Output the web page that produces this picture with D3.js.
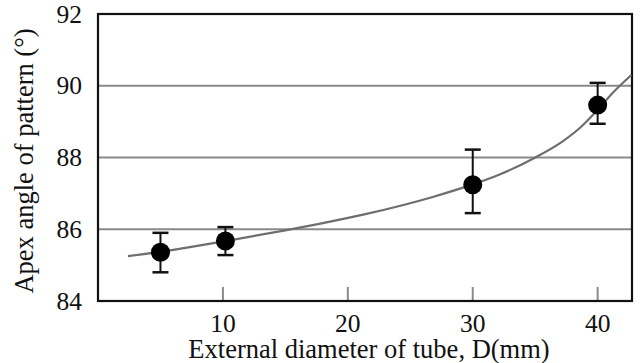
<!DOCTYPE html>
<html>
<head>
<meta charset="utf-8">
<script src="https://cdn.jsdelivr.net/npm/d3@7"></script>
<style>
  body { margin: 0; background: #fff; }
</style>
</head>
<body>
<div id="chart"></div>
<script>
// measured points (mean + error bar ends)
const diameters = [5, 10.2, 30, 40];
const angles = [85.36, 85.67, 87.24, 89.46];
const errLow = [84.8, 85.28, 86.45, 88.94];
const errHigh = [85.9, 86.06, 88.22, 90.08];

// fitted trend line
const fitD = [2.4, 5, 7, 10.2, 15, 17.7, 21.4, 26.8, 30, 32.1, 34.9, 37.2, 38.5, 40, 41.2, 42.7];
const fitAngle = [85.25, 85.37, 85.48, 85.67, 85.97, 86.15, 86.42, 86.9, 87.25, 87.52, 87.98, 88.45, 88.8, 89.33, 89.8, 90.3];

const xTicks = [10, 20, 30, 40];
const yTicks = [84, 86, 88, 90, 92];
const gridLines = [86, 88, 90];

const width = 640, height = 363;
const margin = { top: 14, right: 8, bottom: 62, left: 98 };
const FONT = "Liberation Serif";

const svg = d3.select("#chart")
  .append("svg")
  .attr("width", width)
  .attr("height", height);

const x = d3.scaleLinear()
  .domain([0, 42.75])
  .range([margin.left, width - margin.right]);

const y = d3.scaleLinear()
  .domain([84, 92])
  .range([height - margin.bottom, margin.top]);

// --- grid ---
svg.append("g")
  .attr("class", "grid")
  .selectAll("line")
  .data(gridLines)
  .enter().append("line")
  .attr("x1", x(0))
  .attr("x2", x(42.75))
  .attr("y1", d => y(d))
  .attr("y2", d => y(d))
  .attr("stroke", "#8a8a8a")
  .attr("stroke-width", 2);

// --- x ticks (inward, grey) ---
svg.append("g")
  .selectAll("line")
  .data(xTicks)
  .enter().append("line")
  .attr("x1", d => x(d))
  .attr("x2", d => x(d))
  .attr("y1", y(84))
  .attr("y2", y(84) - 14)
  .attr("stroke", "#8a8a8a")
  .attr("stroke-width", 2);

// --- frame ---
svg.append("rect")
  .attr("x", x(0))
  .attr("y", y(92))
  .attr("width", x(42.75) - x(0))
  .attr("height", y(84) - y(92))
  .attr("fill", "none")
  .attr("stroke", "#111")
  .attr("stroke-width", 2.2);

// --- tick labels ---
svg.append("g")
  .selectAll("text")
  .data(xTicks)
  .enter().append("text")
  .attr("x", d => x(d))
  .attr("y", 331.5)
  .attr("text-anchor", "middle")
  .attr("fill", "#111")
  .attr("font-family", FONT)
  .attr("font-size", 25.5)
  .text(d => d);

svg.append("g")
  .selectAll("text")
  .data(yTicks)
  .enter().append("text")
  .attr("x", 82)
  .attr("y", d => y(d))
  .attr("dy", "0.34em")
  .attr("text-anchor", "end")
  .attr("fill", "#111")
  .attr("font-family", FONT)
  .attr("font-size", 25.5)
  .text(d => d);

// --- axis titles ---
svg.append("text")
  .attr("x", 369)
  .attr("y", 357.5)
  .attr("text-anchor", "middle")
  .attr("fill", "#111")
  .attr("font-family", FONT)
  .attr("font-size", 26.5)
  .text("External diameter of tube, D(mm)");

svg.append("text")
  .attr("transform", "translate(33, 161) rotate(-90)")
  .attr("text-anchor", "middle")
  .attr("fill", "#111")
  .attr("font-family", FONT)
  .attr("font-size", 26.5)
  .text("Apex angle of pattern (°)");

// --- trend line ---
const line = d3.line()
  .x((d, i) => x(fitD[i]))
  .y(d => y(d))
  .curve(d3.curveMonotoneX);

svg.append("path")
  .datum(fitAngle)
  .attr("d", line)
  .attr("fill", "none")
  .attr("stroke", "#6e6e6e")
  .attr("stroke-width", 2.2);

// --- error bars ---
const eb = svg.append("g").attr("class", "errbars");
diameters.forEach((d, i) => {
  eb.append("line")
    .attr("x1", x(d)).attr("x2", x(d))
    .attr("y1", y(errLow[i])).attr("y2", y(errHigh[i]))
    .attr("stroke", "#111").attr("stroke-width", 2);
  [errLow[i], errHigh[i]].forEach(v => {
    eb.append("line")
      .attr("x1", x(d) - 8).attr("x2", x(d) + 8)
      .attr("y1", y(v)).attr("y2", y(v))
      .attr("stroke", "#111").attr("stroke-width", 2.5);
  });
});

// --- points ---
svg.append("g")
  .selectAll("circle")
  .data(angles)
  .enter().append("circle")
  .attr("cx", (d, i) => x(diameters[i]))
  .attr("cy", d => y(d))
  .attr("r", 9.5)
  .attr("fill", "#000");
</script>
</body>
</html>
